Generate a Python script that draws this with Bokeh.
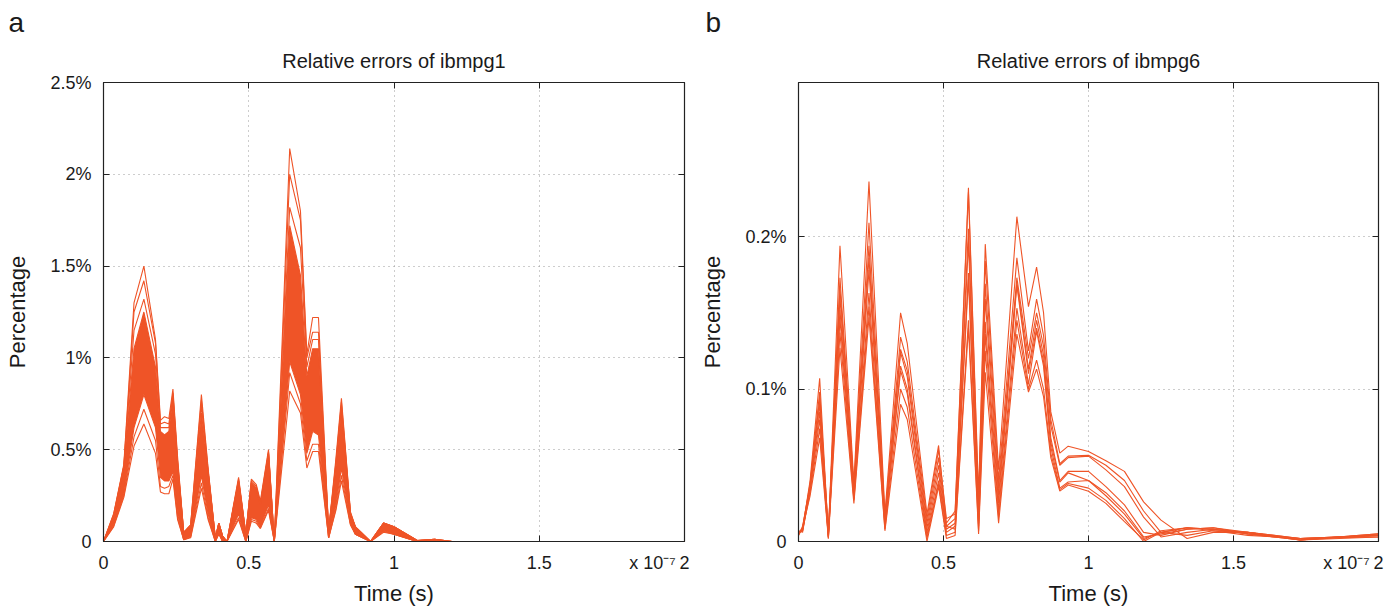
from bokeh.plotting import figure
from bokeh.layouts import row
from bokeh.models import Range1d, FixedTicker, LinearAxis, Title, Grid
from bokeh.embed import file_html
from bokeh.resources import INLINE

# ---------------- data (time in units of 1e-7 s, errors in percent) ----------------
x_ticks = [0, 0.5, 1, 1.5, 2]
x_tick_labels = ["0", "0.5", "1", "1.5", "2"]
x_exp_pos = 1.89
x_exp_label = "x 10\u207b\u2077"
ya_ticks = [0, 0.5, 1, 1.5, 2, 2.5]
ya_tick_labels = ["0", "0.5%", "1%", "1.5%", "2%", "2.5%"]
yb_ticks = [0, 0.1, 0.2]
yb_tick_labels = ["0", "0.1%", "0.2%"]

# panel a : ibmpg1
t_a = [0, 0.035, 0.07, 0.105, 0.139, 0.179, 0.196, 0.21, 0.225, 0.239, 0.255, 0.276, 0.30,
       0.337, 0.36, 0.385, 0.397, 0.41, 0.425, 0.465, 0.49, 0.509, 0.526, 0.54, 0.568, 0.588,
       0.641, 0.678, 0.70, 0.72, 0.74, 0.775, 0.80, 0.819, 0.85, 0.867, 0.919, 0.964, 1.0,
       1.08, 1.14, 1.2, 2.0]
a_core_hi = [0, 0.14, 0.40, 1.05, 1.25, 0.95, 0.60, 0.58, 0.60, 0.78, 0.42, 0.05, 0.08,
             0.70, 0.38, 0.02, 0.10, 0.03, 0.0, 0.33, 0.04, 0.32, 0.29, 0.20, 0.48, 0.0,
             1.72, 1.45, 0.90, 1.05, 1.05, 0.06, 0.40, 0.72, 0.15, 0.08, 0.0, 0.10, 0.08,
             0.005, 0.012, 0.0, 0.0]
a_core_lo = [0, 0.09, 0.26, 0.62, 0.80, 0.62, 0.35, 0.33, 0.33, 0.38, 0.15, 0.01, 0.03,
             0.36, 0.15, 0.0, 0.05, 0.0, 0.0, 0.15, 0.0, 0.13, 0.12, 0.08, 0.20, 0.0,
             0.98, 0.80, 0.48, 0.60, 0.58, 0.02, 0.20, 0.40, 0.10, 0.04, 0.0, 0.06, 0.04,
             0.0, 0.004, 0.0, 0.0]
a_top1 = [0, 0.15, 0.42, 1.30, 1.50, 1.10, 0.66, 0.68, 0.67, 0.83, 0.46, 0.05, 0.09,
          0.80, 0.40, 0.02, 0.10, 0.03, 0.0, 0.35, 0.04, 0.34, 0.31, 0.22, 0.50, 0.0,
          2.14, 1.80, 1.02, 1.22, 1.22, 0.06, 0.45, 0.78, 0.16, 0.08, 0.0, 0.10, 0.08,
          0.005, 0.012, 0.0, 0.0]
a_top2 = [0, 0.15, 0.41, 1.25, 1.42, 1.08, 0.64, 0.65, 0.64, 0.81, 0.44, 0.05, 0.09,
          0.77, 0.39, 0.02, 0.10, 0.03, 0.0, 0.34, 0.04, 0.33, 0.30, 0.21, 0.49, 0.0,
          2.00, 1.75, 1.00, 1.14, 1.14, 0.06, 0.43, 0.76, 0.16, 0.08, 0.0, 0.10, 0.08,
          0.005, 0.012, 0.0, 0.0]
a_top3 = [0, 0.14, 0.41, 1.15, 1.32, 1.02, 0.62, 0.62, 0.62, 0.80, 0.43, 0.05, 0.08,
          0.74, 0.38, 0.02, 0.10, 0.03, 0.0, 0.33, 0.04, 0.32, 0.29, 0.20, 0.48, 0.0,
          1.82, 1.60, 0.95, 1.10, 1.10, 0.06, 0.42, 0.74, 0.15, 0.08, 0.0, 0.10, 0.08,
          0.005, 0.012, 0.0, 0.0]
a_low1 = [0, 0.08, 0.24, 0.52, 0.64, 0.48, 0.27, 0.26, 0.26, 0.34, 0.12, 0.01, 0.02,
          0.29, 0.12, 0.0, 0.04, 0.0, 0.0, 0.12, 0.0, 0.11, 0.10, 0.07, 0.17, 0.0,
          0.82, 0.70, 0.40, 0.49, 0.49, 0.02, 0.17, 0.33, 0.09, 0.04, 0.0, 0.05, 0.04,
          0.0, 0.003, 0.0, 0.0]
a_low2 = [0, 0.085, 0.25, 0.57, 0.72, 0.55, 0.30, 0.29, 0.30, 0.36, 0.13, 0.01, 0.025,
          0.32, 0.13, 0.0, 0.045, 0.0, 0.0, 0.13, 0.0, 0.12, 0.11, 0.075, 0.18, 0.0,
          0.92, 0.75, 0.44, 0.53, 0.53, 0.02, 0.18, 0.36, 0.095, 0.04, 0.0, 0.055, 0.04,
          0.0, 0.003, 0.0, 0.0]

# panel b : ibmpg6
t_b = [0, 0.014, 0.04, 0.073, 0.103, 0.143, 0.191, 0.243, 0.298, 0.352, 0.375, 0.443,
       0.483, 0.51, 0.54, 0.586, 0.621, 0.644, 0.69, 0.753, 0.793, 0.821, 0.845, 0.87,
       0.901, 0.93, 1.0, 1.06, 1.124, 1.19, 1.25, 1.34, 1.43, 1.55, 1.73, 2.0]
b_L1 = [0.006, 0.008, 0.040, 0.107, 0.004, 0.194, 0.038, 0.236, 0.018, 0.150, 0.130, 0.018,
        0.063, 0.012, 0.020, 0.232, 0.030, 0.195, 0.047, 0.213, 0.154, 0.180, 0.150, 0.085,
        0.058, 0.0625, 0.059, 0.053, 0.046, 0.026, 0.014, 0.002, 0.006, 0.006, 0.001, 0.004]
b_L2 = [0.005, 0.009, 0.038, 0.098, 0.005, 0.173, 0.036, 0.209, 0.016, 0.134, 0.118, 0.015,
        0.060, 0.015, 0.018, 0.229, 0.025, 0.184, 0.040, 0.186, 0.125, 0.159, 0.135, 0.080,
        0.051, 0.056, 0.0565, 0.050, 0.040, 0.020, 0.006, 0.004, 0.007, 0.006, 0.002, 0.004]
b_L3 = [0.006, 0.007, 0.037, 0.094, 0.006, 0.166, 0.034, 0.194, 0.014, 0.126, 0.112, 0.012,
        0.055, 0.010, 0.015, 0.205, 0.020, 0.169, 0.035, 0.173, 0.120, 0.150, 0.128, 0.076,
        0.050, 0.055, 0.056, 0.047, 0.036, 0.016, 0.003, 0.006, 0.008, 0.006, 0.001, 0.005]
b_L4 = [0.004, 0.010, 0.036, 0.090, 0.003, 0.160, 0.032, 0.186, 0.012, 0.124, 0.108, 0.009,
        0.050, 0.008, 0.012, 0.196, 0.015, 0.159, 0.030, 0.170, 0.113, 0.145, 0.122, 0.068,
        0.040, 0.046, 0.046, 0.036, 0.024, 0.006, 0.004, 0.008, 0.009, 0.006, 0.002, 0.004]
b_L5 = [0.007, 0.006, 0.035, 0.085, 0.004, 0.152, 0.030, 0.178, 0.011, 0.115, 0.100, 0.006,
        0.045, 0.006, 0.010, 0.176, 0.012, 0.144, 0.025, 0.168, 0.110, 0.140, 0.118, 0.065,
        0.039, 0.045, 0.040, 0.032, 0.020, 0.003, 0.005, 0.008, 0.009, 0.005, 0.001, 0.005]
b_L6 = [0.005, 0.008, 0.034, 0.080, 0.002, 0.146, 0.028, 0.163, 0.010, 0.112, 0.097, 0.004,
        0.040, 0.010, 0.008, 0.172, 0.010, 0.136, 0.020, 0.153, 0.103, 0.138, 0.115, 0.062,
        0.035, 0.039, 0.040, 0.030, 0.018, 0.002, 0.006, 0.009, 0.008, 0.005, 0.002, 0.004]
b_L7 = [0.006, 0.007, 0.032, 0.074, 0.003, 0.137, 0.027, 0.154, 0.008, 0.100, 0.088, 0.002,
        0.038, 0.004, 0.006, 0.145, 0.007, 0.125, 0.016, 0.145, 0.100, 0.119, 0.100, 0.058,
        0.034, 0.038, 0.035, 0.027, 0.015, 0.000, 0.006, 0.009, 0.008, 0.005, 0.001, 0.003]
b_L8 = [0.004, 0.009, 0.030, 0.068, 0.002, 0.127, 0.025, 0.147, 0.007, 0.090, 0.080, 0.000,
        0.036, 0.002, 0.004, 0.140, 0.005, 0.111, 0.012, 0.136, 0.098, 0.113, 0.095, 0.055,
        0.033, 0.037, 0.033, 0.025, 0.013, 0.001, 0.007, 0.009, 0.007, 0.004, 0.002, 0.003]

# ---------------- styling ----------------
ORANGE = "#EF5427"
FONT = "Liberation Sans"
TXT = "#1a1a1a"
AX = "#222222"


def tick_only_axis(ticks):
    return LinearAxis(ticker=FixedTicker(ticks=ticks),
                      major_label_overrides={t: "" for t in ticks},
                      major_tick_in=6, major_tick_out=0, minor_tick_line_color=None,
                      axis_line_color=AX, axis_line_width=1.2,
                      major_tick_line_color=AX, major_label_standoff=0)


def build(width, left, right, ymax, yt, yl, letter, title, letter_offset):
    p = figure(width=width, height=608, x_range=Range1d(0, 2), y_range=Range1d(0, ymax),
               output_backend="svg", toolbar_location=None,
               min_border_left=left, min_border_right=right,
               min_border_top=82, min_border_bottom=67,
               x_axis_type=None, y_axis_type=None,
               background_fill_color="white", border_fill_color="white")
    # bottom: ticks only, then labels + axis label
    p.add_layout(tick_only_axis(x_ticks), "below")
    xt = x_ticks + [x_exp_pos]
    xl = x_tick_labels + [x_exp_label]
    xlab = LinearAxis(ticker=FixedTicker(ticks=xt),
                      major_label_overrides={t: l for t, l in zip(xt, xl)},
                      axis_line_color=None, major_tick_line_color=None,
                      minor_tick_line_color=None, major_label_standoff=5,
                      major_label_text_font=FONT, major_label_text_font_size="18px",
                      major_label_text_color=TXT,
                      axis_label="Time (s)", axis_label_standoff=5,
                      axis_label_text_font=FONT, axis_label_text_font_size="22px",
                      axis_label_text_font_style="normal", axis_label_text_color=TXT)
    p.add_layout(xlab, "below")
    # left axis
    yax = LinearAxis(ticker=FixedTicker(ticks=yt),
                     major_label_overrides={t: l for t, l in zip(yt, yl)},
                     major_tick_in=6, major_tick_out=0, minor_tick_line_color=None,
                     axis_line_color=AX, axis_line_width=1.2, major_tick_line_color=AX,
                     major_label_standoff=12, major_label_text_font=FONT,
                     major_label_text_font_size="18px", major_label_text_color=TXT,
                     axis_label="Percentage", axis_label_standoff=17,
                     axis_label_text_font=FONT, axis_label_text_font_size="22px",
                     axis_label_text_font_style="normal", axis_label_text_color=TXT)
    p.add_layout(yax, "left")
    p.add_layout(tick_only_axis(yt), "right")
    p.add_layout(tick_only_axis(x_ticks), "above")
    p.add_layout(Title(text=title, align="center", text_font=FONT, text_font_size="20px",
                       text_font_style="normal", text_color=TXT, standoff=21), "above")
    p.add_layout(Title(text=letter, align="left", offset=letter_offset, text_font=FONT,
                       text_font_size="28px", text_font_style="normal", text_color=TXT,
                       standoff=0), "above")
    p.add_layout(Grid(dimension=0, ticker=FixedTicker(ticks=x_ticks), grid_line_color="#9a9a9a",
                      grid_line_dash="1 4", grid_line_width=1))
    p.add_layout(Grid(dimension=1, ticker=FixedTicker(ticks=yt), grid_line_color="#9a9a9a",
                      grid_line_dash="1 4", grid_line_width=1))
    p.outline_line_color = AX
    return p


# ---------------- panel a ----------------
pa = build(697, 103, 13, 2.5, ya_ticks, ya_tick_labels, "a", "Relative errors of ibmpg1", -95)
pa.varea(x=t_a, y1=a_core_lo, y2=a_core_hi, fill_color=ORANGE, fill_alpha=1.0)
for ys in (a_core_hi, a_core_lo, a_top1, a_top2, a_top3, a_low1, a_low2):
    pa.line(t_a, ys, line_color=ORANGE, line_width=1.1)

# ---------------- panel b ----------------
pb = build(697, 99, 16, 0.301, yb_ticks, yb_tick_labels, "b", "Relative errors of ibmpg6", -93)
for ys in (b_L1, b_L2, b_L3, b_L4, b_L5, b_L6, b_L7, b_L8):
    pb.line(t_b, ys, line_color=ORANGE, line_width=1.1)

layout = row(pa, pb, spacing=0)
open("out.html", "w").write(file_html(layout, INLINE))
